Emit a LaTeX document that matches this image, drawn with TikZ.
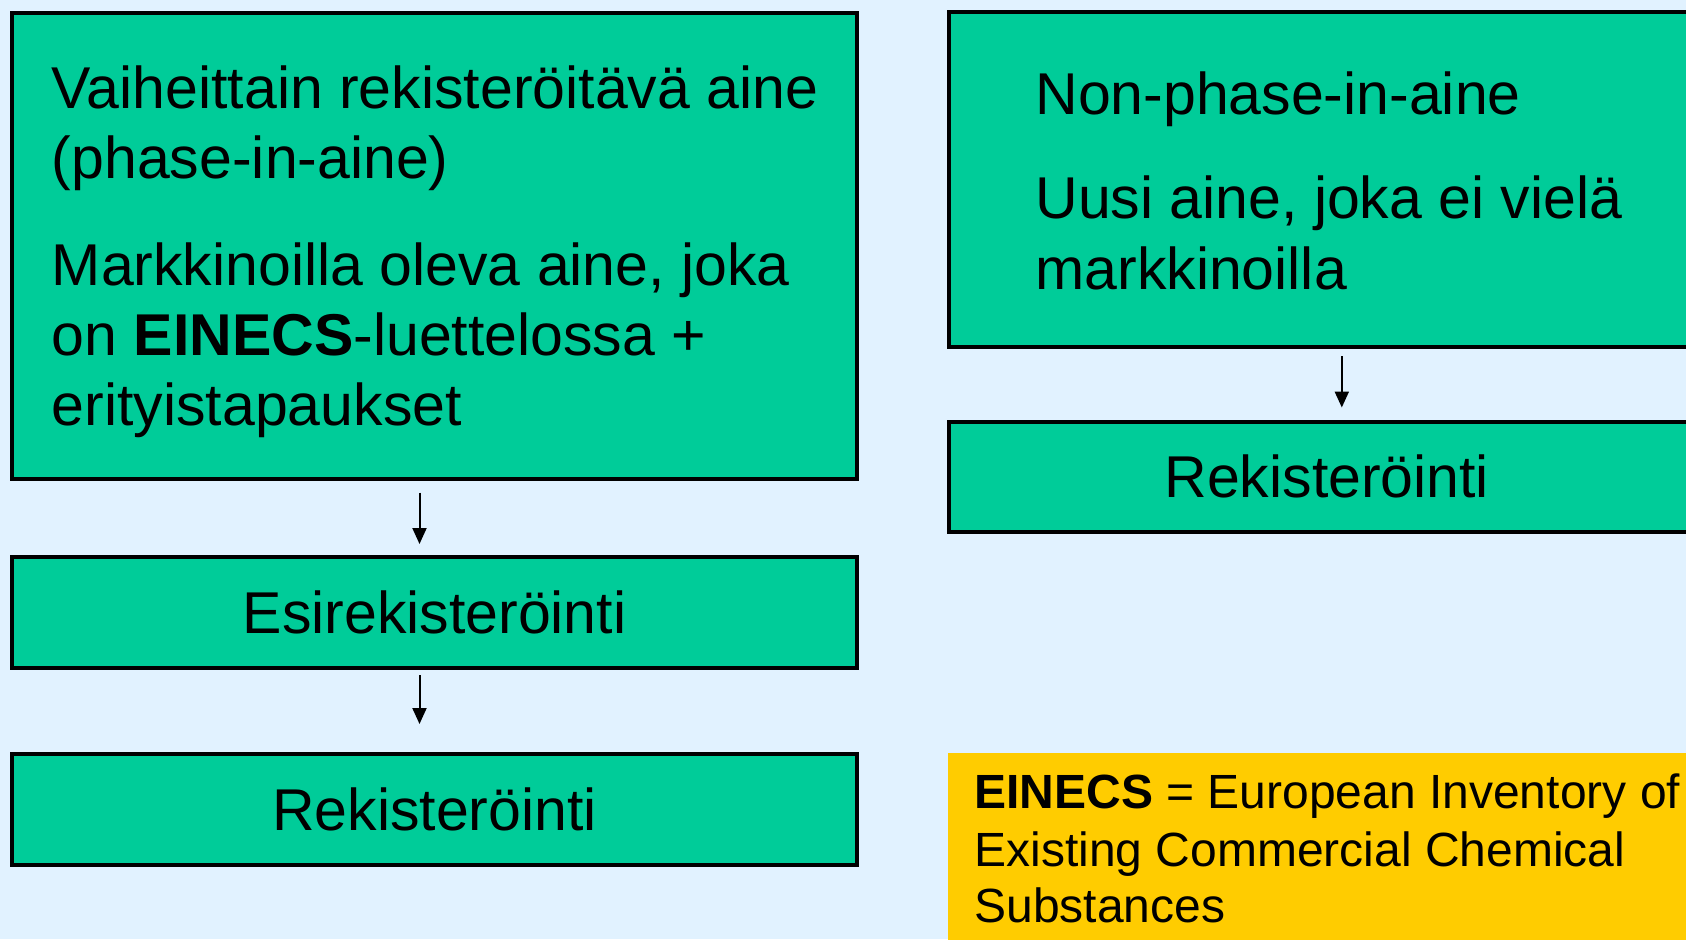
\documentclass[tikz,border=0pt]{standalone}
\usepackage{fontspec}
\setmainfont{Liberation Sans}
\usetikzlibrary{arrows.meta}
\definecolor{bgblue}{HTML}{E1F2FF}
\definecolor{boxgreen}{HTML}{00CC99}
\definecolor{noteyellow}{HTML}{FFCC00}
\tikzset{
  gbox/.style={draw=black, fill=boxgreen, line width=2pt, inner sep=0pt, outer sep=0pt,
    font=\fontsize{29.5}{35}\selectfont},
  txt/.style={anchor=base west, inner sep=0pt, font=\fontsize{29.5}{35}\selectfont},
  ntxt/.style={anchor=base west, inner sep=0pt, font=\fontsize{24}{29}\selectfont},
  arr/.style={draw=black, line width=1pt, -{Triangle[length=8pt,width=7pt]}},
}
\begin{document}
\begin{tikzpicture}[x=0.5pt,y=-0.5pt]
\clip (0,0) rectangle (1686,939);
\fill[bgblue] (0,0) rectangle (1686,939);
% left column
\node[gbox, minimum width=422.5pt, minimum height=233pt] (b1) at (434.5,245.5) {};
\node[txt] (t1) at (51.5,108) {Vaiheittain rekisteröitävä aine};
\node[txt] (t2) at (51.5,178.5) {(phase-in-aine)};
\node[txt] (t3) at (51.5,285) {Markkinoilla oleva aine, joka};
\node[txt] (t4) at (51.5,355) {on \textbf{EINECS}-luettelossa +};
\node[txt] (t5) at (51.5,425) {erityistapaukset};
\node[gbox, minimum width=422.5pt, minimum height=55.5pt] (b2) at (434.5,612.5) {Esirekisteröinti};
\node[gbox, minimum width=422.5pt, minimum height=55.5pt] (b3) at (434.5,809.5) {Rekisteröinti};
% right column
\node[gbox, minimum width=377.5pt, minimum height=167.5pt] (r1) at (1326.8,179.5) {};
\node[txt] (u1) at (1035,114) {Non-phase-in-aine};
\node[txt] (u2) at (1035,218.6) {Uusi aine, joka ei vielä};
\node[txt] (u3) at (1035,289) {markkinoilla};
\node[gbox, minimum width=377.5pt, minimum height=55pt] (r2) at (1326.8,476.5) {Rekisteröinti};
% note
\node[fill=noteyellow, draw=none, inner sep=0pt, outer sep=0pt, minimum width=379.2pt, minimum height=104pt] (n1) at (1326.8,856.7) {};
\node[ntxt] (n2) at (974,808) {\textbf{EINECS} = European Inventory of};
\node[ntxt] (n3) at (974,866.7) {Existing Commercial Chemical};
\node[ntxt] (n4) at (974,922.7) {Substances};
% arrows
\draw[arr, shorten <=7pt, shorten >=6.5pt] ([xshift=-7.5pt]b1.south) -- ([xshift=-7.5pt]b2.north);
\draw[arr, shorten <=3.5pt, shorten >=15pt] ([xshift=-7.5pt]b2.south) -- ([xshift=-7.5pt]b3.north);
\draw[arr, shorten <=4.5pt, shorten >=7pt] ([xshift=7.5pt]r1.south) -- ([xshift=7.5pt]r2.north);
\end{tikzpicture}
\end{document}
